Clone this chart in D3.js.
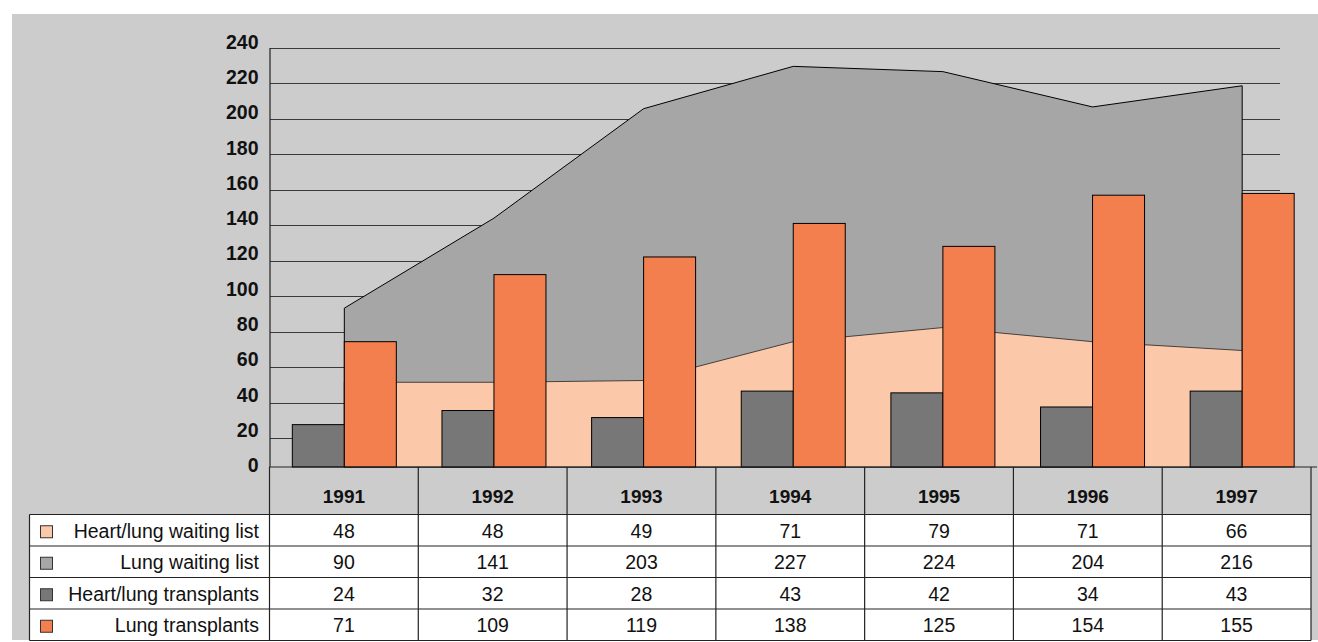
<!DOCTYPE html>
<html>
<head>
<meta charset="utf-8">
<script src="https://cdn.jsdelivr.net/npm/d3@7"></script>
<style>
  html, body { margin: 0; padding: 0; background: #ffffff; }
  svg { display: block; font-family: "Liberation Sans", Arial, sans-serif; }
</style>
</head>
<body>
<svg id="chart" width="1318" height="642"></svg>
<script>
// Lung and heart/lung transplant activity and waiting lists, 1991-1997
const years = ["1991", "1992", "1993", "1994", "1995", "1996", "1997"];
const heartLungWaiting = [48, 48, 49, 71, 79, 71, 66];
const lungWaiting = [90, 141, 203, 227, 224, 204, 216];
const heartLungTransplants = [24, 32, 28, 43, 42, 34, 43];
const lungTransplants = [71, 109, 119, 138, 125, 154, 155];
const yTicks = [0, 20, 40, 60, 80, 100, 120, 140, 160, 180, 200, 220, 240];
const seriesNames = ["Heart/lung waiting list", "Lung waiting list", "Heart/lung transplants", "Lung transplants"];
const seriesColors = ["#fbc8aa", "#a6a6a6", "#777777", "#f37f4f"];
const seriesValues = [heartLungWaiting, lungWaiting, heartLungTransplants, lungTransplants];

const svg = d3.select("#chart");

// panel background
svg.append("rect").attr("x", 12).attr("y", 14).attr("width", 1306).attr("height", 626)
  .attr("fill", "#cccccc");

// scales
const x = d3.scaleBand().domain(years).range([269.5, 1317]).padding(0);
const y = d3.scaleLinear().domain([0, 240]).range([467, 43.4]);
const yGrid = d3.scaleLinear().domain([0, 240]).range([473.5, 48]);
const xBar = d3.scaleBand().domain(["hl", "lung"]).range([0, x.bandwidth()])
  .paddingInner(0).paddingOuter(0.439);
const cx = i => x(years[i]) + x.bandwidth() / 2;

// gridlines
svg.append("g").attr("class", "grid")
  .selectAll("line").data(yTicks.filter(v => v > 0)).join("line")
  .attr("x1", 270).attr("x2", 1280)
  .attr("y1", d => Math.round(yGrid(d)) + 0.5).attr("y2", d => Math.round(yGrid(d)) + 0.5)
  .attr("stroke", "#3a3a3a").attr("stroke-width", 1.2);

// waiting list areas
const area = d3.area()
  .x((d, i) => cx(i))
  .y0(y(0))
  .y1(d => y(d));

svg.append("path").datum(lungWaiting)
  .attr("d", area).attr("fill", seriesColors[1])
  .attr("stroke", "#000").attr("stroke-width", 1);
svg.append("path").datum(heartLungWaiting)
  .attr("d", area).attr("fill", seriesColors[0])
  .attr("stroke", "#222").attr("stroke-width", 0.8);

// transplant bars
const barData = years.flatMap((yr, i) => [
  { yr, key: "hl", v: heartLungTransplants[i], c: seriesColors[2] },
  { yr, key: "lung", v: lungTransplants[i], c: seriesColors[3] }
]);
svg.append("g").selectAll("rect").data(barData).join("rect")
  .attr("x", d => x(d.yr) + xBar(d.key))
  .attr("y", d => y(d.v))
  .attr("width", xBar.bandwidth())
  .attr("height", d => y(0) - y(d.v))
  .attr("fill", d => d.c)
  .attr("stroke", "#000").attr("stroke-width", 1);

// axes lines
svg.append("line").attr("x1", 270).attr("x2", 270).attr("y1", 48).attr("y2", 467)
  .attr("stroke", "#222").attr("stroke-width", 1.2);
svg.append("line").attr("x1", 269.5).attr("x2", 1317).attr("y1", 467).attr("y2", 467)
  .attr("stroke", "#222").attr("stroke-width", 1.2);

// y tick labels
const yAxis = svg.append("g").attr("transform", "translate(270,-1.5)")
  .call(d3.axisLeft(y).tickValues(yTicks).tickSize(0).tickPadding(11.5));
yAxis.select(".domain").remove();
yAxis.selectAll("text")
  .attr("font-family", "Liberation Sans, Arial, sans-serif")
  .attr("font-size", 19.5).attr("font-weight", "bold").attr("fill", "#111");

// data table
const xt = d3.scaleBand().domain(years).range([269.5, 1311]);
const rows = d3.scaleBand().domain(seriesNames).range([514.5, 640.5]);
const table = svg.append("g");

table.selectAll("rect.row").data(seriesNames).join("rect").attr("class", "row")
  .attr("x", 29.5).attr("y", d => rows(d)).attr("width", 1311 - 29.5).attr("height", rows.bandwidth())
  .attr("fill", "#ffffff");

// header year labels
table.selectAll("text.year").data(years).join("text").attr("class", "year")
  .attr("x", d => xt(d) + xt.bandwidth() / 2).attr("y", 503)
  .attr("text-anchor", "middle")
  .attr("font-size", 19).attr("font-weight", "bold").attr("fill", "#111")
  .text(d => d);

// grid lines of the table
const tline = (x1, y1, x2, y2) => table.append("line")
  .attr("x1", x1).attr("y1", y1).attr("x2", x2).attr("y2", y2)
  .attr("stroke", "#222").attr("stroke-width", 1.2);
years.forEach(yr => tline(xt(yr), 467, xt(yr), 640.5));
tline(1311, 467, 1311, 640.5);
tline(29.5, 514.5, 29.5, 640.5);
seriesNames.forEach(s => tline(29.5, rows(s), 1311, rows(s)));
tline(29.5, 640.5, 1311, 640.5);

// legend keys and labels
seriesNames.forEach((s, k) => {
  const cy = rows(s) + rows.bandwidth() / 2;
  table.append("rect")
    .attr("x", 40.5).attr("y", cy - 4.5).attr("width", 12).attr("height", 12)
    .attr("fill", seriesColors[k]).attr("stroke", "#333").attr("stroke-width", 1);
  table.append("text")
    .attr("x", 259).attr("y", cy + 7.5).attr("text-anchor", "end")
    .attr("font-size", 19.5).attr("fill", "#111").text(s);
  table.selectAll(null).data(seriesValues[k]).join("text")
    .attr("x", (d, i) => xt(years[i]) + xt.bandwidth() / 2).attr("y", cy + 7.5)
    .attr("text-anchor", "middle").attr("font-size", 19.5).attr("fill", "#111")
    .text(d => d);
});
</script>
</body>
</html>
